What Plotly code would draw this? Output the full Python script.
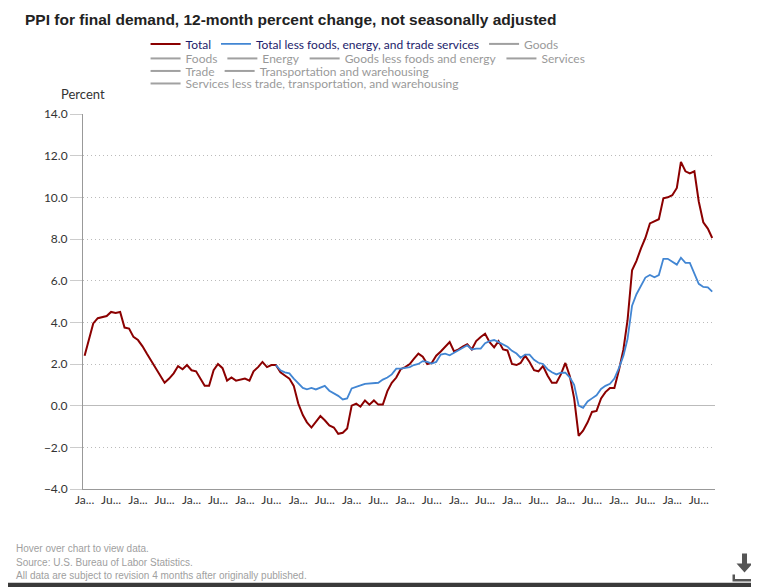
import pandas as pd
import plotly.graph_objects as go

# Monthly 12-month percent changes, Jan 2011 - Oct 2022.
months = pd.date_range('2011-01-01', '2022-10-01', freq='MS')
total = [
    2.4, 3.2, 3.95, 4.2, 4.25, 4.3, 4.5, 4.45, 4.5, 3.75, 3.7, 3.3,
    3.15, 2.85, 2.5, 2.15, 1.8, 1.45, 1.1, 1.3, 1.55, 1.9, 1.75, 1.95,
    1.7, 1.65, 1.3, 0.95, 0.95, 1.7, 2.0, 1.8, 1.2, 1.35, 1.2, 1.25,
    1.3, 1.2, 1.65, 1.85, 2.1, 1.85, 1.95, 1.95, 1.6, 1.45, 1.3, 0.95,
    0.1, -0.45, -0.8, -1.05, -0.75, -0.5, -0.7, -0.95, -1.05, -1.35, -1.3, -1.1,
    0.0, 0.1, -0.05, 0.25, 0.05, 0.25, 0.05, 0.05, 0.7, 1.1, 1.35, 1.75,
    1.85, 2.0, 2.25, 2.5, 2.35, 2.0, 2.05, 2.4, 2.6, 2.8, 3.05, 2.6,
    2.7, 2.85, 2.95, 2.7, 3.1, 3.3, 3.45, 3.05, 2.8, 3.1, 2.7, 2.65,
    2.0, 1.95, 2.05, 2.4, 2.1, 1.7, 1.65, 1.9, 1.45, 1.1, 1.1, 1.5,
    2.05, 1.4, 0.35, -1.45, -1.2, -0.8, -0.3, -0.25, 0.35, 0.65, 0.85, 0.85,
    1.7, 2.7, 4.1, 6.5, 6.95, 7.55, 8.05, 8.75, 8.85, 8.95, 9.95, 10.0,
    10.1, 10.45, 11.7, 11.25, 11.15, 11.25, 9.8, 8.8, 8.5, 8.05,
]

# Total less foods, energy, and trade services starts Aug 2014.
core_months = pd.date_range('2014-08-01', '2022-10-01', freq='MS')
core = [
    1.95, 1.7, 1.6, 1.55, 1.3,
    1.05, 0.85, 0.78, 0.85, 0.78, 0.85, 0.95, 0.72, 0.6, 0.47, 0.3, 0.35,
    0.83, 0.92, 0.97, 1.05, 1.06, 1.08, 1.1, 1.25, 1.35, 1.5, 1.78, 1.78,
    1.8, 1.85, 1.95, 2.0, 2.14, 2.1, 2.02, 2.1, 2.45, 2.5, 2.42, 2.55,
    2.68, 2.8, 2.9, 2.7, 2.74, 2.74, 3.0, 3.1, 3.15, 3.05, 2.95, 2.83,
    2.63, 2.5, 2.3, 2.45, 2.45, 2.2, 2.06, 2.0, 1.75, 1.6, 1.5, 1.58,
    1.58, 1.35, 1.0, 0.0, -0.1, 0.2, 0.35, 0.5, 0.8, 0.95, 1.05, 1.3,
    1.8, 2.4, 3.2, 4.8, 5.35, 5.75, 6.15, 6.27, 6.16, 6.27, 7.05, 7.05,
    6.92, 6.77, 7.1, 6.85, 6.85, 6.37, 5.85, 5.7, 5.68, 5.47,
]

# Series that are switched off in the legend (no values drawn), by legend row.
hidden_rows = [
    ['Goods'],
    ['Foods', 'Energy', 'Goods less foods and energy', 'Services'],
    ['Trade', 'Transportation and warehousing'],
    ['Services less trade, transportation, and warehousing'],
]

tick_dates = pd.date_range('2011-01-01', '2022-07-01', freq='6MS')
tick_text = ['Ja...' if d.month == 1 else 'Ju...' for d in tick_dates]

fig = go.Figure()
fig.add_trace(go.Scatter(x=months, y=total, name='Total', mode='lines',
                         line=dict(color='#8b0000', width=2), legend='legend'))
fig.add_trace(go.Scatter(x=core_months, y=core,
                         name='Total less foods, energy, and trade services',
                         mode='lines', line=dict(color='#4286d3', width=1.8),
                         legend='legend'))
for row, names in enumerate(hidden_rows):
    leg = 'legend' if row == 0 else 'legend%d' % (row + 1)
    for name in names:
        fig.add_trace(go.Scatter(x=months[:1], y=[None], mode='lines', visible='legendonly',
                                 name='<span style="color:#333333">%s</span>' % name,
                                 line=dict(color='#444444', width=2), legend=leg,
                                 showlegend=True))

# Recession shading.
fig.add_shape(type='rect', xref='x', yref='paper', x0='2020-02-01', x1='2020-04-01',
              y0=0, y1=1, fillcolor='#d9d9d9', line_width=0, layer='below')

# White page on a dark frame.
fig.add_shape(type='rect', xref='paper', yref='paper', x0=-0.2, x1=1.066,
              y0=-0.2497, y1=1.5, fillcolor='white', line_width=0, layer='below')

# Download icon.
fig.add_shape(type='path', xref='paper', yref='paper', xsizemode='pixel', ysizemode='pixel',
              xanchor=1.0467, yanchor=-0.2069,
              path='M-2.5,13 L2.5,13 L2.5,3 L8,3 L0,-6 L-8,3 L-2.5,3 Z '
                   'M-12,-8 L-12,-15 L12,-15 L12,-8 L9.5,-8 L9.5,-12.5 L-9.5,-12.5 L-9.5,-8 Z',
              fillcolor='#555555', line_width=0)

legend_style = dict(orientation='h', xanchor='left', yanchor='middle', x=0.099,
                    bgcolor='rgba(0,0,0,0)', font=dict(family='Lato', size=12, color='#1c1c6b'),
                    itemclick=False, itemdoubleclick=False, visible=True)

fig.update_layout(
    width=751, height=579,
    margin=dict(l=75, r=44, t=106, b=98),
    paper_bgcolor='#3a3a3a', plot_bgcolor='white',
    showlegend=True,
    title=dict(text='<b>PPI for final demand, 12-month percent change, not seasonally adjusted</b>',
               xref='container', x=17 / 751, xanchor='left', y=1 - 12 / 579, yanchor='middle',
               font=dict(family='Liberation Sans, Arial', size=15.5, color='#222222')),
    legend=dict(legend_style, y=1.1869),
    legend2=dict(legend_style, y=1.1482),
    legend3=dict(legend_style, y=1.1148),
    legend4=dict(legend_style, y=1.0814),
    hovermode=False,
    annotations=[
        dict(text='Percent', xref='paper', yref='paper', x=0.0, y=1.0534,
             xanchor='center', yanchor='middle', showarrow=False,
             font=dict(family='Lato', size=13, color='#333333')),
        dict(text='Hover over chart to view data.', xref='paper', yref='paper',
             x=-0.109, y=-0.159, xanchor='left', yanchor='middle', showarrow=False,
             font=dict(family='Liberation Sans, Arial', size=10, color='#a0a0a0')),
        dict(text='Source: U.S. Bureau of Labor Statistics.', xref='paper', yref='paper',
             x=-0.109, y=-0.1963, xanchor='left', yanchor='middle', showarrow=False,
             font=dict(family='Liberation Sans, Arial', size=10, color='#a0a0a0')),
        dict(text='All data are subject to revision 4 months after originally published.',
             xref='paper', yref='paper', x=-0.109, y=-0.231, xanchor='left',
             yanchor='middle', showarrow=False,
             font=dict(family='Liberation Sans, Arial', size=10, color='#a0a0a0')),
    ],
)

fig.update_xaxes(range=['2010-12-21', '2022-10-20'], tickvals=tick_dates, ticktext=tick_text,
                 showgrid=False, showline=True, linecolor='#999999', linewidth=1,
                 ticks='', tickfont=dict(family='Lato', size=12, color='#333333'))
fig.update_yaxes(range=[-4, 14], dtick=2, tickformat='.1f', showgrid=True,
                 gridcolor='#bbbbbb', griddash='1px,3px', gridwidth=1,
                 zeroline=True, zerolinecolor='#bbbbbb', zerolinewidth=1,
                 showline=True, linecolor='#999999', linewidth=1,
                 ticks='outside', ticklen=12, tickcolor='#cccccc',
                 tickfont=dict(family='Lato', size=12, color='#333333'))

fig.write_html('out.html')
